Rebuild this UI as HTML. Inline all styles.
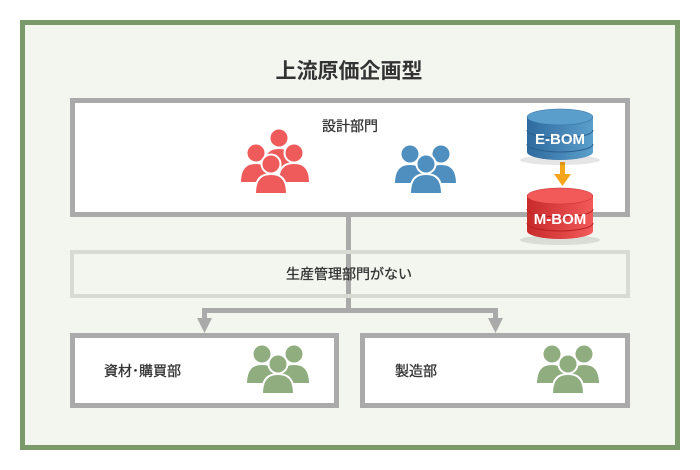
<!DOCTYPE html>
<html><head><meta charset="utf-8"><style>
body{margin:0;background:#fff;}
svg{display:block;}
text{font-family:"Liberation Sans","Noto Sans CJK JP",sans-serif;}
</style></head><body>
<svg width="700" height="470" viewBox="0 0 700 470" xmlns="http://www.w3.org/2000/svg">
<defs>
<g id="p">
<path d="M-16,18 C-16,2 -9,-2 0,-2 C9,-2 16,2 16,18 Z" stroke="#fff" stroke-width="2"/>
<circle cx="0" cy="-12" r="9.5" stroke="#fff" stroke-width="2"/>
</g>
<linearGradient id="gb" x1="0" x2="1"><stop offset="0" stop-color="#2f6a9e"/><stop offset="1" stop-color="#5a9fcb"/></linearGradient>
<linearGradient id="gr" x1="0" x2="1"><stop offset="0" stop-color="#c82a2a"/><stop offset="1" stop-color="#f25a5a"/></linearGradient>
</defs>
<rect x="22.5" y="22.5" width="655" height="425" fill="#f3f5ef" stroke="#7a9a6a" stroke-width="5"/>
<text x="349" y="78" font-size="21" font-weight="bold" text-anchor="middle" fill="#333">上流原価企画型</text>
<rect x="346" y="214" width="5" height="98" fill="#aaa"/>
<rect x="202" y="308" width="296" height="5" fill="#aaa"/>
<rect x="202" y="308" width="5" height="12" fill="#aaa"/>
<rect x="493" y="308" width="5" height="12" fill="#aaa"/>
<polygon points="197,318 212,318 204.5,333" fill="#aaa"/>
<polygon points="488,318 503,318 495.5,333" fill="#aaa"/>
<rect x="72.5" y="100.5" width="555" height="114" fill="#fff" stroke="#aaa" stroke-width="5"/>
<text x="350" y="131" font-size="14" text-anchor="middle" fill="#333" stroke="#333" stroke-width="0.3">設計部門</text>
<rect x="72" y="252" width="556" height="44" fill="#f3f5ef" stroke="#d8dad4" stroke-width="4"/>
<rect x="346" y="254" width="5" height="40" fill="#aaa"/>
<text x="349" y="279" font-size="14" text-anchor="middle" fill="#333" stroke="#333" stroke-width="0.3">生産管理部門がない</text>
<rect x="72.5" y="335.5" width="264" height="70" fill="#fff" stroke="#aaa" stroke-width="5"/>
<text x="104" y="376" font-size="14" fill="#333" stroke="#333" stroke-width="0.3">資材･購買部</text>
<rect x="362.5" y="335.5" width="265" height="70" fill="#fff" stroke="#aaa" stroke-width="5"/>
<text x="395" y="376" font-size="14" fill="#333" stroke="#333" stroke-width="0.3">製造部</text>
<g fill="#8fad7f">
<use href="#p" x="262" y="366"/><use href="#p" x="294" y="366"/><use href="#p" x="278" y="376"/>
<use href="#p" x="552" y="366"/><use href="#p" x="584" y="366"/><use href="#p" x="568" y="376"/>
</g>
<g fill="#ef5b5b">
<use href="#p" x="279" y="150"/>
<use href="#p" x="256" y="165"/><use href="#p" x="294" y="165"/><use href="#p" x="271" y="176"/>
</g>
<g fill="#4e8fbf">
<use href="#p" x="410" y="166"/><use href="#p" x="441" y="166"/><use href="#p" x="426" y="176"/>
</g>
<rect x="560" y="162" width="5" height="14" fill="#f5a51a"/>
<polygon points="554,174 571,174 562.5,186" fill="#f5a51a"/>
<ellipse cx="560" cy="160" rx="40" ry="5" fill="#000" opacity="0.1"/>
<path d="M527,117 V152 A33,8 0 0 0 593,152 V117 Z" fill="url(#gb)"/>
<ellipse cx="560" cy="117" rx="33" ry="8" fill="#5a9fcb" stroke="#2f6a9e" stroke-width="0.5"/>
<path d="M527,130 A33,8 0 0 0 593,130 M527,144 A33,8 0 0 0 593,144" fill="none" stroke="#2a5f8e" stroke-width="1"/>
<text x="560" y="144" font-size="15" font-weight="bold" fill="#fff" text-anchor="middle">E-BOM</text>
<ellipse cx="560" cy="240" rx="40" ry="5" fill="#000" opacity="0.1"/>
<path d="M527,196 V231 A33,8 0 0 0 593,231 V196 Z" fill="url(#gr)"/>
<ellipse cx="560" cy="196" rx="33" ry="8" fill="#f25a5a" stroke="#c82a2a" stroke-width="0.5"/>
<path d="M527,209 A33,8 0 0 0 593,209 M527,223 A33,8 0 0 0 593,223" fill="none" stroke="#b82222" stroke-width="1"/>
<text x="560" y="224" font-size="15" font-weight="bold" fill="#fff" text-anchor="middle">M-BOM</text>
</svg>
</body></html>
